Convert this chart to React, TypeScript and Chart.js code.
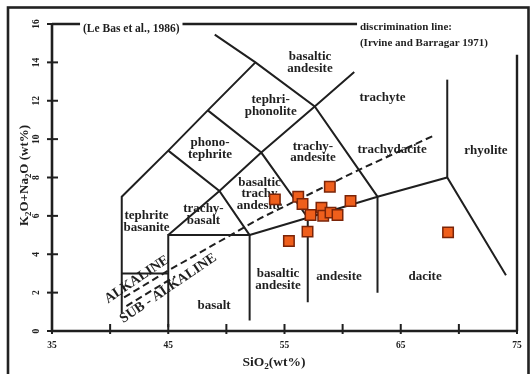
import React, { useEffect, useRef } from "react";
import { Chart, registerables } from "chart.js";

Chart.register(...registerables);

type P = [number, number];

// ---- axes ----
const xMin = 35, xMax = 75, yMin = 0, yMax = 16;
const xLabelTicks = [35, 45, 55, 65, 75];
const xAllTicks = [35, 40, 45, 50, 55, 60, 65, 70, 75];
const yLabelTicks = [0, 2, 4, 6, 8, 10, 12, 14, 16];

// ---- samples ----
const sampleSiO2 = [54.17, 56.18, 56.55, 58.9, 57.24, 58.18, 58.33, 58.96, 59.56, 60.68, 56.98, 55.38, 69.07];
const sampleAlkali = [6.86, 7.0, 6.62, 7.52, 6.04, 6.43, 6.01, 6.17, 6.04, 6.77, 5.18, 4.69, 5.14];

// ---- TAS field boundaries (Le Bas et al., 1986) ----
const tephriteLeft: P[] = [[41, 0.9], [41, 7], [45, 9.4], [48.4, 11.5], [52.5, 14]];
const phonoliteLine: P[] = [[49.0, 15.45], [52.5, 14], [57.6, 11.7], [63, 7], [63, 2.0]];
const picrobasaltTop: P[] = [[41, 3], [45, 3]];
const basaltBox: P[] = [[45, 0.2], [45, 5], [52, 5], [52, 0.55]];
const subalkalineTop: P[] = [[52, 5], [57, 5.9], [63, 7], [69, 8], [74.05, 2.9]];
const andesiteLeft: P[] = [[57, 1.5], [57, 5.9], [53, 9.3], [48.4, 11.5]];
const trachybasaltLine: P[] = [[52, 5], [49.4, 7.3], [45, 9.4]];
const alkalineDiagonal: P[] = [[45, 5], [49.4, 7.3], [53, 9.3], [57.6, 11.7], [61, 13.5]];
const rhyoliteLeft: P[] = [[69, 8], [69, 13.1]];
const rightEdge: P[] = [[75, 0], [75, 14.4]];
const topEdge: P[] = [[35, 16], [61.24, 16]];
const solidLines: P[][] = [
  tephriteLeft, phonoliteLine, picrobasaltTop, basaltBox, subalkalineTop,
  andesiteLeft, trachybasaltLine, alkalineDiagonal, rhyoliteLeft,
];
const edgeLines: P[][] = [rightEdge, topEdge];

// Irvine & Baragar (1971) alkaline / sub-alkaline discrimination
const irvineBaragar: P[] = [[41.2, 1.75], [45, 3.15], [52.9, 5.87], [61.4, 8.4], [67.9, 10.2]];
const irvineBaragarLower: P[] = [[41.4, 1.3], [45.6, 2.85]];

// ---- field names ----
const fieldNames = [
  "basaltic\nandesite", "tephri-\nphonolite", "trachyte", "phono-\ntephrite",
  "trachy-\nandesite", "trachydacite", "rhyolite", "basaltic\ntrachy\nandesite",
  "trachy-\nbasalt", "tephrite\nbasanite", "basalt", "basaltic\nandesite",
  "andesite", "dacite",
];
const fieldSiO2 = [57.19, 53.81, 63.43, 48.59, 57.45, 64.25, 72.33, 52.85, 48.03, 43.13, 48.94, 54.44, 59.69, 67.09];
const fieldAlkali = [13.99, 11.75, 12.14, 9.51, 9.33, 9.43, 9.38, 7.15, 6.07, 5.71, 1.3, 2.68, 2.81, 2.81];

const seriesNames = ["ALKALINE", "SUB - ALKALINE"];
const seriesSiO2 = [42.3, 45.0];
const seriesAlkali = [2.68, 2.22];

const sourceNote = "(Le Bas et al., 1986)";
const discriminationNote = ["discrimination line:", "(Irvine and Barragar 1971)"];

const SERIF = "'Liberation Serif', 'Times New Roman', serif";
const INK = "#1f1f1f";

type Part = [string, boolean];
function drawRich(ctx: CanvasRenderingContext2D, parts: Part[], x: number, y: number, size: number) {
  const subSize = size * 0.68;
  let total = 0;
  parts.forEach(([t, sub]) => {
    ctx.font = `bold ${sub ? subSize : size}px ${SERIF}`;
    total += ctx.measureText(t).width;
  });
  let cx = x - total / 2;
  ctx.textAlign = "left";
  ctx.textBaseline = "alphabetic";
  parts.forEach(([t, sub]) => {
    ctx.font = `bold ${sub ? subSize : size}px ${SERIF}`;
    ctx.fillText(t, cx, y + (sub ? size * 0.22 : 0));
    cx += ctx.measureText(t).width;
  });
}

const tasPlugin = {
  id: "tasDecor",
  beforeDatasetsDraw(chart: any) {
    const { ctx } = chart;
    const xs = chart.scales.x, ys = chart.scales.y;
    ctx.save();
    ctx.fillStyle = INK;
    ctx.font = `bold 13px ${SERIF}`;
    ctx.textAlign = "center";
    ctx.textBaseline = "middle";
    fieldNames.forEach((name, i) => {
      const lines = name.split("\n");
      const cx = xs.getPixelForValue(fieldSiO2[i]);
      const cy = ys.getPixelForValue(fieldAlkali[i]);
      const lh = 11.5;
      lines.forEach((ln, j) => ctx.fillText(ln, cx, cy + (j - (lines.length - 1) / 2) * lh));
    });
    ctx.restore();
  },
  afterDatasetsDraw(chart: any) {
    const { ctx } = chart;
    const xs = chart.scales.x, ys = chart.scales.y;
    const left = xs.getPixelForValue(xMin);
    const right = xs.getPixelForValue(xMax);
    const bottom = ys.getPixelForValue(yMin);
    const top = ys.getPixelForValue(yMax);
    ctx.save();
    ctx.strokeStyle = INK;
    ctx.fillStyle = INK;

    // axes
    ctx.lineWidth = 2.6;
    ctx.beginPath();
    ctx.moveTo(left, top);
    ctx.lineTo(left, bottom);
    ctx.lineTo(right, bottom);
    ctx.stroke();

    // ticks
    ctx.lineWidth = 2;
    xAllTicks.forEach((v) => {
      const px = xs.getPixelForValue(v);
      ctx.beginPath();
      ctx.moveTo(px, bottom - 7);
      ctx.lineTo(px, bottom + 3);
      ctx.stroke();
    });
    yLabelTicks.forEach((v) => {
      const py = ys.getPixelForValue(v);
      ctx.beginPath();
      ctx.moveTo(left - 5, py);
      ctx.lineTo(left + 6, py);
      ctx.stroke();
    });

    // tick labels
    ctx.font = `bold 9.5px ${SERIF}`;
    ctx.textAlign = "center";
    ctx.textBaseline = "middle";
    xLabelTicks.forEach((v) => {
      ctx.fillText(String(v), xs.getPixelForValue(v), bottom + 15);
    });
    yLabelTicks.forEach((v) => {
      ctx.save();
      ctx.translate(left - 15.5, ys.getPixelForValue(v));
      ctx.rotate(-Math.PI / 2);
      ctx.fillText(String(v), 0, 0);
      ctx.restore();
    });

    // axis titles
    drawRich(ctx, [["SiO", false], ["2", true], ["(wt%)", false]], (left + right) / 2 - 10.5, bottom + 35, 13.5);
    ctx.save();
    ctx.translate(left - 24, (top + bottom) / 2 - 2);
    ctx.rotate(-Math.PI / 2);
    drawRich(ctx, [["K", false], ["2", true], ["O+Na", false], ["2", true], ["O (wt%)", false]], 0, 0, 13);
    ctx.restore();

    // series names along discrimination line
    ctx.font = `bold 14px ${SERIF}`;
    ctx.textAlign = "center";
    ctx.textBaseline = "middle";
    seriesNames.forEach((name, i) => {
      ctx.save();
      ctx.translate(xs.getPixelForValue(seriesSiO2[i]), ys.getPixelForValue(seriesAlkali[i]));
      ctx.rotate(-34 * Math.PI / 180);
      ctx.fillText(name, 0, 0);
      ctx.restore();
    });

    // source note over the top edge line
    const nx = xs.getPixelForValue(37.67);
    const ny = ys.getPixelForValue(15.74);
    ctx.font = `bold 11.5px ${SERIF}`;
    const nw = ctx.measureText(sourceNote).width;
    ctx.fillStyle = "#ffffff";
    ctx.fillRect(nx - 3, ny - 9, nw + 6, 16);
    ctx.fillStyle = INK;
    ctx.textAlign = "left";
    ctx.fillText(sourceNote, nx, ny);

    ctx.font = `bold 11px ${SERIF}`;
    ctx.fillText(discriminationNote[0], xs.getPixelForValue(61.49), ys.getPixelForValue(15.84));
    ctx.fillText(discriminationNote[1], xs.getPixelForValue(61.49), ys.getPixelForValue(15.01));

    // outer frame
    ctx.lineWidth = 2.6;
    ctx.strokeStyle = "#222";
    ctx.strokeRect(8, 7.5, 520.5, 400);
    ctx.restore();
  },
};

const toXY = (pts: P[]) => pts.map(([x, y]) => ({ x, y }));

export default function App() {
  const ref = useRef<HTMLCanvasElement | null>(null);
  useEffect(() => {
    if (!ref.current) return;
    const lineDs = (pts: P[], width: number, dash: number[] = []) => ({
      type: "line" as const,
      data: toXY(pts),
      showLine: true,
      borderColor: INK,
      borderWidth: width,
      borderDash: dash,
      pointRadius: 0,
      fill: false,
      tension: 0,
      clip: false as any,
      order: 2,
    });
    const chart = new Chart(ref.current, {
      type: "scatter",
      data: {
        datasets: [
          {
            data: sampleSiO2.map((x, i) => ({ x, y: sampleAlkali[i] })),
            pointStyle: "rect",
            pointRadius: 7.4,
            backgroundColor: "#ef5f1c",
            borderColor: "#7a2408",
            borderWidth: 1.5,
            clip: false as any,
            order: 0,
          } as any,
          ...solidLines.map((l) => lineDs(l, 2)),
          ...edgeLines.map((l) => lineDs(l, 2.4)),
          lineDs(irvineBaragar, 2, [7, 4]),
          lineDs(irvineBaragarLower, 2, [7, 4]),
        ],
      },
      options: {
        animation: false,
        responsive: false,
        maintainAspectRatio: false,
        devicePixelRatio: 1,
        layout: { padding: { left: 52, right: 13, top: 24, bottom: 43 } },
        plugins: { legend: { display: false }, tooltip: { enabled: false } },
        events: [],
        scales: {
          x: { type: "linear", min: xMin, max: xMax, display: false },
          y: { type: "linear", min: yMin, max: yMax, display: false },
        },
      },
      plugins: [tasPlugin],
    });
    return () => chart.destroy();
  }, []);

  return (
    <div style={{ position: "fixed", left: 0, top: 0, width: 530, height: 374, background: "#fff" }}>
      <canvas ref={ref} width={530} height={374} style={{ width: 530, height: 374, display: "block" }} />
    </div>
  );
}
